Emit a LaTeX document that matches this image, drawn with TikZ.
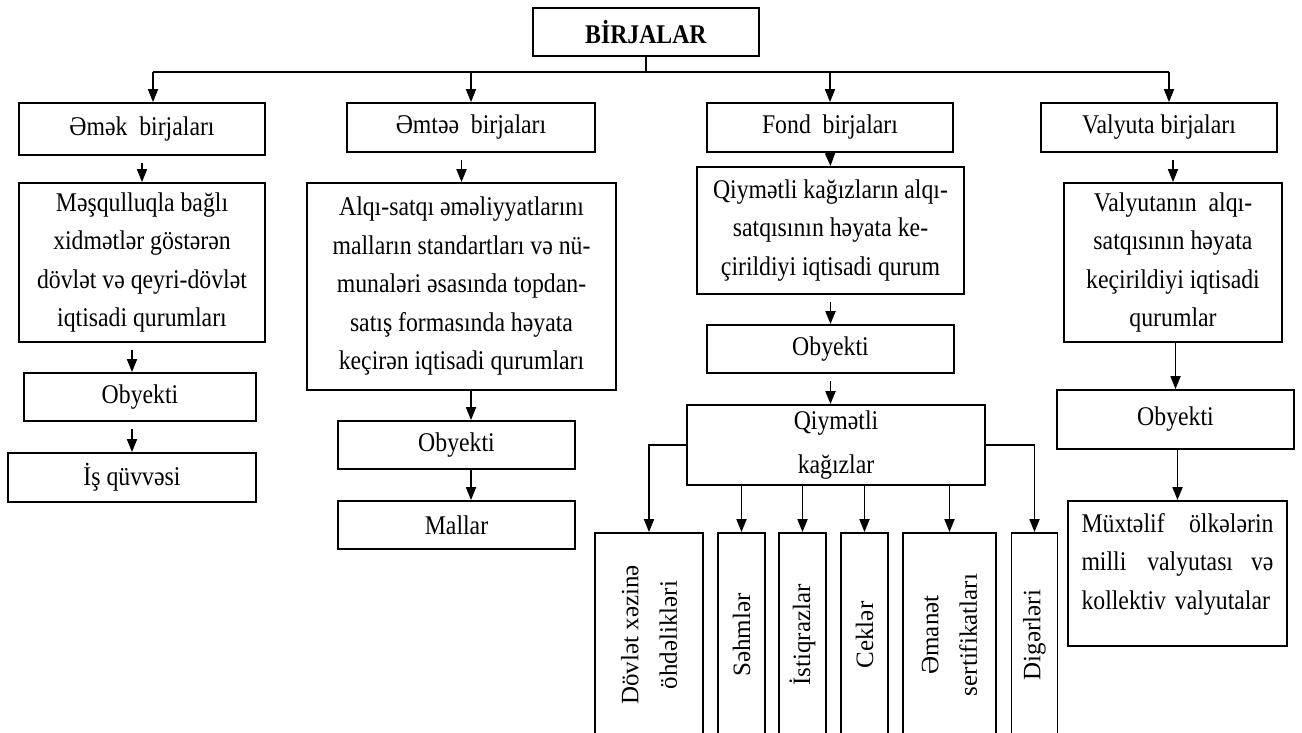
\documentclass[tikz,border=0pt]{standalone}
\usepackage{fontspec}
\setmainfont{Liberation Serif}[FakeStretch=0.88]
\newfontfamily\plainserif{Liberation Serif}
\usetikzlibrary{arrows.meta}
\tikzset{
  box/.style={draw, inner sep=0pt, align=center},
  vbox/.style={box, rotate=90, minimum width=204pt, font=\plainserif\fontsize{25}{38.5}\selectfont},
  arr/.style={-{Triangle[length=13pt,width=10pt]}},
  gapped/.style={shorten <=7pt}
}

\begin{document}
\begin{tikzpicture}[x=1pt, y=-1pt, line width=1.8pt, font=\fontsize{27}{38.5}\selectfont]
      \useasboundingbox (0,0) rectangle (1302,733);
      \clip (0,0) rectangle (1302,733);
      \node (top) at (646,32) [box, minimum width=226pt, minimum height=48pt] {\textbf{BİRJALAR}};
      \node (emek) at (142,129) [box, minimum width=246pt, minimum height=52pt] {Əmək\ \ birjaları};
      \node (emtee) at (471,127.5) [box, minimum width=248pt, minimum height=49pt] {Əmtəə\ \ birjaları};
      \node (fond) at (830,127.5) [box, minimum width=246pt, minimum height=49pt] {Fond\ \ birjaları};
      \node (valyuta) at (1159,127.5) [box, minimum width=236pt, minimum height=49pt] {Valyuta birjaları};
      \coordinate (busL) at (153,72);
      \coordinate (busR) at (1169,72);
      \draw (top.south) -- (top.south |- busL);
      \draw (busL) -- (busR);
      \draw[arr] (busL) -- (busL |- emek.north);
      \draw[arr] (emtee.north |- busL) -- (emtee.north);
      \draw[arr] (fond.north |- busL) -- (fond.north);
      \draw[arr] (busR) -- (busR |- valyuta.north);

      \node (mesgul) at (142,262.5) [box, minimum width=246pt, minimum height=159pt] {Məşqulluqla bağlı\\xidmətlər göstərən\\dövlət və qeyri-dövlət\\iqtisadi qurumları};
      \node (ob1) at (140,397) [box, minimum width=232pt, minimum height=48pt] {Obyekti};
      \node (is) at (132,477.5) [box, minimum width=248pt, minimum height=49pt] {İş qüvvəsi};
      \draw[arr, gapped] (emek.south) -- (mesgul.north);
      \draw[arr, gapped] (mesgul.south -| is) -- (ob1.north -| is);
      \draw[arr, gapped] (ob1.south -| is) -- (is.north);

      \node (alqi) at (461.5,286.5) [box, minimum width=309pt, minimum height=207pt] {Alqı-satqı əməliyyatlarını\\malların standartları və nü-\\munaləri əsasında topdan-\\satış formasında həyata\\keçirən iqtisadi qurumları};
      \node (ob2) at (456.5,445) [box, minimum width=237pt, minimum height=48pt] {Obyekti};
      \node (mallar) at (456.5,525) [box, minimum width=237pt, minimum height=48pt] {Mallar};
      \draw[arr, gapped] (emtee.south -| alqi) -- (alqi.north);
      \draw[arr] (alqi.south -| emtee) -- (ob2.north -| emtee);
      \draw[arr] (ob2.south -| emtee) -- (mallar.north -| emtee);

      \node (qiy) at (830.5,230.5) [box, minimum width=267pt, minimum height=127pt] {Qiymətli kağızların alqı-\\satqısının həyata ke-\\çirildiyi iqtisadi qurum};
      \node (ob3) at (830.5,349) [box, minimum width=247pt, minimum height=48pt] {Obyekti};
      \node (qk) at (836,445) [box, minimum width=298pt, minimum height=80pt] {Qiymətli\\[5pt]kağızlar};
      \draw[arr] (fond.south) -- (qiy.north);
      \draw[arr, gapped] (qiy.south) -- (ob3.north);
      \draw[arr, gapped] (ob3.south) -- (qk.north -| ob3);

      \node (d1) at (649,635) [vbox, minimum height=108pt] {Dövlət xəzinə\\öhdəlikləri};
      \node (d2) at (741.5,635) [vbox, minimum height=47pt] {Səhmlər};
      \node (d3) at (802.5,635) [vbox, minimum height=47pt] {İstiqrazlar};
      \node (d4) at (864.5,635) [vbox, minimum height=47pt] {Ceklər};
      \node (d5) at (949.5,635) [vbox, minimum height=93pt] {Əmanət\\sertifikatları};
      \node (d6) at (1034.5,635) [vbox, minimum height=46pt] {Digərləri};
      \draw[arr] (qk.west) -| (d1.east);
      \draw[arr] (qk.east) -| (d6.east);
      \draw[arr] (qk.south -| d2) -- (d2.east);
      \draw[arr] (qk.south -| d3) -- (d3.east);
      \draw[arr] (qk.south -| d4) -- (d4.east);
      \draw[arr] (qk.south -| d5) -- (d5.east);

      \node (val2) at (1173,262.5) [box, minimum width=218pt, minimum height=159pt] {Valyutanın\ \ alqı-\\satqısının həyata\\keçirildiyi iqtisadi\\qurumlar};
      \node (ob4) at (1175.5,419.5) [box, minimum width=237pt, minimum height=59pt] {Obyekti};
      \node (mux) at (1177.5,573.5) [box, minimum width=219pt, minimum height=145pt] {};
      \node (muxtext) at ([yshift=-12pt]mux.north) [anchor=north, inner sep=0pt, text width=192pt, align=left] {Müxtəlif\hfill ölkələrin\\milli\hfill valyutası\ \ və\\kollektiv valyutalar};
      \draw[arr, gapped] (valyuta.south -| val2) -- (val2.north);
      \draw[arr] (val2.south -| ob4) -- (ob4.north);
      \draw[arr] (ob4.south -| mux) -- (mux.north);
    \end{tikzpicture}
\end{document}
